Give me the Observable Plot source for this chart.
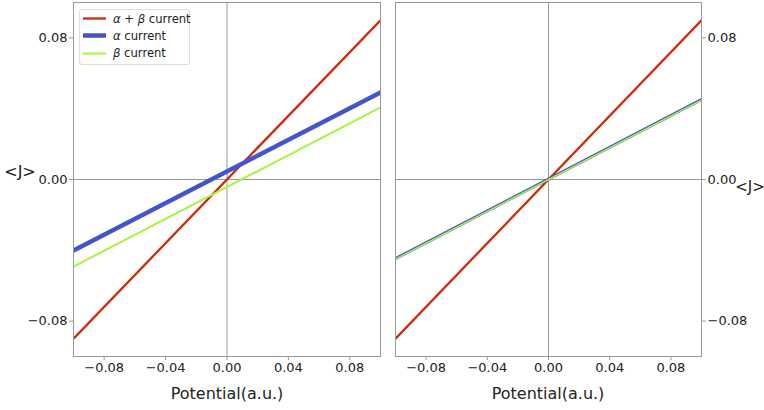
<!DOCTYPE html>
<html><head><meta charset="utf-8">
<script src="https://cdn.jsdelivr.net/npm/d3@7"></script>
<script src="https://cdn.jsdelivr.net/npm/@observablehq/plot@0.6"></script>
<style>
body{margin:0;background:#fff;font-family:"DejaVu Sans",sans-serif;}
#wrap{position:relative;width:764px;height:410px;overflow:hidden;}
.pl{position:absolute;top:0;}
.lab{position:absolute;font-size:16px;color:#222;white-space:nowrap;transform:translate(-50%,-50%);line-height:1;}
#legend{position:absolute;left:79px;top:9px;width:109px;height:54px;border:1px solid #ddd;border-radius:3px;background:#fff;font-size:11.6px;color:#222;}
#legend .row{position:absolute;left:3px;height:17px;display:flex;align-items:center;white-space:nowrap;}
#legend .row span{margin-left:7px;}
</style></head><body>
<div id="wrap"></div>
<script>
// data
const potential = [-0.1, 0.1];
const xTicks = [-0.08, -0.04, 0, 0.04, 0.08];
const yTicks = [-0.08, 0, 0.08];
const seriesNames = ["α + β current", "α current", "β current"];
const leftSum = [-0.0899, 0.0899];
const leftAlpha = [-0.0401, 0.0492];
const leftBeta = [-0.0492, 0.0407];
const rightSum = [-0.0899, 0.0899];
const rightAlpha = [-0.0447, 0.0452];
const rightBeta = [-0.0450, 0.0448];

const colors = {sum: "#d12a0b", alpha: "#4455cc", beta: "#a6f53e"};
const fmt = d3.format(".2f");
const toRows = arr => potential.map((x, i) => ({x, y: arr[i]}));

function panel({sum, alpha, beta, alphaW, betaW, yAnchor, width, ml, mr}) {
  return Plot.plot({
    width, height: 410,
    marginLeft: ml, marginRight: mr, marginTop: 2, marginBottom: 54,
    x: {domain: [-0.1, 0.1]},
    y: {domain: [-0.1, 0.1]},
    style: {fontFamily: "DejaVu Sans", background: "#fff", overflow: "visible"},
    marks: [
      Plot.ruleX([0], {stroke: "#999", strokeWidth: 1}),
      Plot.ruleY([0], {stroke: "#999", strokeWidth: 1}),
      Plot.line(toRows(sum), {x: "x", y: "y", stroke: colors.sum, strokeWidth: 2.3, clip: true}),
      Plot.line(toRows(alpha), {x: "x", y: "y", stroke: colors.alpha, strokeWidth: alphaW, clip: true}),
      Plot.line(toRows(beta), {x: "x", y: "y", stroke: colors.beta, strokeWidth: betaW, clip: true}),
      Plot.frame({stroke: "#999", strokeWidth: 1}),
      Plot.axisX({ticks: xTicks, tickFormat: fmt, tickSize: 4, tickPadding: 2, fontSize: 13, label: null, stroke: "#999", fill: "#222"}),
      Plot.axisY({anchor: yAnchor, ticks: yTicks, tickFormat: fmt, tickSize: 4, tickPadding: 2, fontSize: 13, label: null, stroke: "#999", fill: "#222"})
    ]
  });
}

const wrap = document.getElementById("wrap");
const p1 = panel({sum: leftSum, alpha: leftAlpha, beta: leftBeta, alphaW: 4.5, betaW: 2, yAnchor: "left", width: 388, ml: 73, mr: 8});
p1.classList.add("pl"); p1.style.left = "0px";
const p2 = panel({sum: rightSum, alpha: rightAlpha, beta: rightBeta, alphaW: 3, betaW: 1.6, yAnchor: "right", width: 376, ml: 7, mr: 63});
p2.classList.add("pl"); p2.style.left = "388px";
wrap.append(p1, p2);

function label(text, x, y, size) {
  const d = document.createElement("div");
  d.className = "lab"; d.textContent = text;
  d.style.left = x + "px"; d.style.top = y + "px";
  if (size) d.style.fontSize = size + "px";
  wrap.append(d);
}
label("Potential(a.u.)", 227, 394);
label("Potential(a.u.)", 548, 394);
label("<J>", 20, 172);
label("<J>", 750, 187, 15);

// legend
const leg = document.createElement("div");
leg.id = "legend";
const legendItems = [
  {name: seriesNames[0], color: colors.sum, w: 2.3},
  {name: seriesNames[1], color: colors.alpha, w: 4.5},
  {name: seriesNames[2], color: colors.beta, w: 2}
];
legendItems.forEach((it, i) => {
  const r = document.createElement("div");
  r.className = "row";
  r.style.top = (0 + i * 17.3) + "px";
  const html = it.name.replace(/α/g, "<i>α</i>").replace(/β/g, "<i>β</i>");
  r.innerHTML = `<svg width="23" height="17"><line x1="0" x2="23" y1="8.5" y2="8.5" stroke="${it.color}" stroke-width="${it.w}"/></svg><span>${html}</span>`;
  leg.append(r);
});
wrap.append(leg);
</script>
</body></html>
